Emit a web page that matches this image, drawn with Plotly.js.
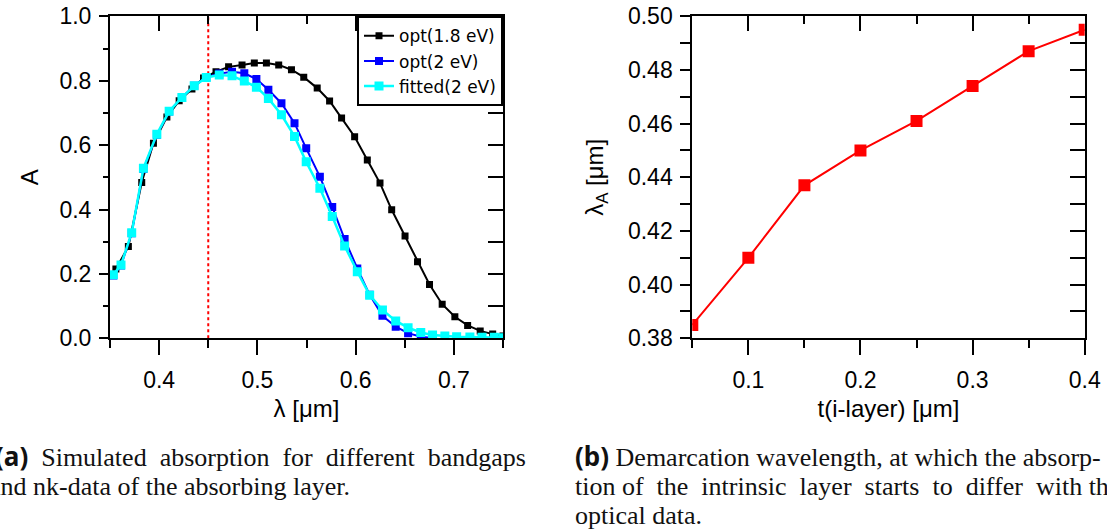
<!DOCTYPE html>
<html>
<head>
<meta charset="utf-8">
<script src="https://cdn.plot.ly/plotly-3.0.1.min.js"></script>
<style>
  html, body { margin: 0; padding: 0; background: #fff; }
  #chart { width: 1107px; height: 529px; }
</style>
</head>
<body>
<div id="chart"></div>
<script>
// ---------- data ----------
const lambdaBlack = [0.3560, 0.3687, 0.3823, 0.3942, 0.4079, 0.4204, 0.4334, 0.4452, 0.4579, 0.4707,
                     0.4844, 0.4969, 0.5092, 0.5217, 0.5347, 0.5472, 0.5609, 0.5735, 0.5857, 0.5990,
                     0.6119, 0.6248, 0.6367, 0.6503, 0.6630, 0.6752, 0.6881, 0.7010, 0.7140, 0.7268,
                     0.7395, 0.7500];
const absBlack    = [0.215, 0.285, 0.484, 0.606, 0.687, 0.738, 0.774, 0.808, 0.828, 0.843,
                     0.849, 0.855, 0.855, 0.849, 0.834, 0.811, 0.777, 0.737, 0.684, 0.626,
                     0.554, 0.482, 0.399, 0.318, 0.238, 0.167, 0.106, 0.067, 0.040, 0.023,
                     0.013, 0.007];

const lambdaBlue  = [0.3534, 0.3612, 0.3721, 0.3840, 0.3977, 0.4102, 0.4232, 0.4357, 0.4480, 0.4612,
                     0.4742, 0.4867, 0.4990, 0.5112, 0.5245, 0.5378, 0.5497, 0.5636, 0.5762, 0.5888,
                     0.6017, 0.6143, 0.6273, 0.6408, 0.6534, 0.6663, 0.6783];
const absBlue     = [0.195, 0.226, 0.326, 0.526, 0.632, 0.704, 0.748, 0.784, 0.811, 0.822,
                     0.828, 0.823, 0.805, 0.772, 0.730, 0.668, 0.590, 0.502, 0.408, 0.308,
                     0.217, 0.135, 0.070, 0.036, 0.016, 0.005, 0.001];

const lambdaCyan  = [0.3534, 0.3612, 0.3721, 0.3840, 0.3977, 0.4102, 0.4232, 0.4357, 0.4480, 0.4612,
                     0.4742, 0.4867, 0.4990, 0.5112, 0.5245, 0.5378, 0.5497, 0.5636, 0.5762, 0.5888,
                     0.6017, 0.6143, 0.6273, 0.6408, 0.6534, 0.6663, 0.6783, 0.6908, 0.7028, 0.7163,
                     0.7286, 0.7412, 0.7500];
const absCyan     = [0.197, 0.228, 0.328, 0.528, 0.634, 0.705, 0.748, 0.784, 0.810, 0.818,
                     0.815, 0.799, 0.780, 0.745, 0.694, 0.627, 0.548, 0.466, 0.378, 0.287,
                     0.207, 0.134, 0.088, 0.054, 0.033, 0.018, 0.010, 0.007, 0.005, 0.004,
                     0.003, 0.003, 0.002];

const seriesNames = ['opt(1.8 eV)', 'opt(2 eV)', 'fitted(2 eV)'];
const demarcationLambda = 0.45;

const tLayer  = [0.05, 0.10, 0.15, 0.20, 0.25, 0.30, 0.35, 0.40];
const lambdaA = [0.385, 0.410, 0.437, 0.450, 0.461, 0.474, 0.487, 0.495];

// ---------- traces ----------
const traces = [
  { x: lambdaBlack, y: absBlack, name: seriesNames[0], type: 'scatter', mode: 'lines+markers',
    xaxis: 'x', yaxis: 'y',
    line: { color: '#000000', width: 2 }, marker: { symbol: 'square', size: 7, color: '#000000' } },
  { x: lambdaBlue, y: absBlue, name: seriesNames[1], type: 'scatter', mode: 'lines+markers',
    xaxis: 'x', yaxis: 'y',
    line: { color: '#0000ff', width: 2 }, marker: { symbol: 'square', size: 8, color: '#0000ff' } },
  { x: lambdaCyan, y: absCyan, name: seriesNames[2], type: 'scatter', mode: 'lines+markers',
    xaxis: 'x', yaxis: 'y',
    line: { color: '#00ffff', width: 2.5 }, marker: { symbol: 'square', size: 9, color: '#00ffff' } },
  { x: tLayer, y: lambdaA, name: 'lambdaA', type: 'scatter', mode: 'lines+markers',
    xaxis: 'x2', yaxis: 'y2', showlegend: false,
    line: { color: '#ff0000', width: 2 }, marker: { symbol: 'square', size: 12, color: '#ff0000' } },
  // empty traces that only make the mirrored frame axes (top / right) exist
  { x: [], y: [], type: 'scatter', mode: 'markers', xaxis: 'x3', yaxis: 'y3', showlegend: false, hoverinfo: 'skip' },
  { x: [], y: [], type: 'scatter', mode: 'markers', xaxis: 'x4', yaxis: 'y4', showlegend: false, hoverinfo: 'skip' }
];

// ---------- geometry (pixel -> paper) ----------
const W = 1107, H = 529;
const px = v => v / W;
const py = v => 1 - v / H;
const yDom = [py(338.3), py(16.3)];
const xDomA = [px(110), px(503)];
const xDomB = [px(692.3), px(1084.7)];

const tickFont = { family: 'Liberation Sans, Arial, sans-serif', size: 23, color: '#000' };
const baseAx = {
  showline: true, linecolor: '#000', linewidth: 2, showgrid: false, zeroline: false,
  tickcolor: '#000', tickwidth: 2, tickfont: tickFont
};
function mirrorX(over, anchor, range, dtick, mdtick) {
  return Object.assign({}, baseAx, {
    overlaying: over, anchor: anchor, side: 'top', range: range, dtick: dtick, tick0: 0,
    ticks: 'inside', ticklen: 15, showticklabels: false,
    minor: { dtick: mdtick, ticks: 'inside', ticklen: 8, tickwidth: 2, tickcolor: '#000' }
  });
}
function mirrorY(over, anchor, range, dtick, mdtick) {
  return Object.assign({}, baseAx, {
    overlaying: over, anchor: anchor, side: 'right', range: range, dtick: dtick, tick0: 0,
    ticks: 'inside', ticklen: 15, showticklabels: false,
    minor: { dtick: mdtick, ticks: 'inside', ticklen: 15, tickwidth: 2, tickcolor: '#000' }
  });
}

const capFont = { family: 'Liberation Serif, Times New Roman, serif', size: 26, color: '#111' };
const boldSpan = s => "<span style='font-family:Noto Sans, DejaVu Sans, sans-serif;font-weight:bold'>" + s + "</span>";

const layout = {
  width: W, height: H,
  margin: { l: 0, r: 0, t: 0, b: 0 },
  paper_bgcolor: '#fff', plot_bgcolor: 'rgba(0,0,0,0)',
  font: { family: 'Liberation Sans, Arial, sans-serif', size: 22, color: '#000' },
  showlegend: true,
  legend: {
    x: px(503), xanchor: 'right', y: py(16.3), yanchor: 'top',
    bgcolor: '#fff', bordercolor: '#000', borderwidth: 2,
    font: { family: 'DejaVu Sans, Liberation Sans, sans-serif', size: 17, color: '#000' },
    tracegroupgap: 0, itemwidth: 30
  },
  xaxis: Object.assign({}, baseAx, {
    domain: xDomA, anchor: 'y', side: 'bottom', range: [0.35, 0.75],
    dtick: 0.1, tick0: 0, tickformat: '.1f', ticks: 'outside', ticklen: 15,
    minor: { dtick: 0.05, ticks: 'outside', ticklen: 8, tickwidth: 2, tickcolor: '#000' },
    ticklabelstandoff: 5,
    title: { text: 'λ [μm]', font: { size: 24 }, standoff: 8 }
  }),
  yaxis: Object.assign({}, baseAx, {
    domain: yDom, anchor: 'x', side: 'left', range: [0, 1],
    dtick: 0.2, tick0: 0, tickformat: '.1f', ticks: 'outside', ticklen: 9,
    minor: { dtick: 0.1, ticks: 'outside', ticklen: 5, tickwidth: 2, tickcolor: '#000' },
    ticklabelstandoff: 3,
    title: { text: 'A', font: { size: 24 }, standoff: 14 }
  }),
  xaxis3: mirrorX('x', 'y3', [0.35, 0.75], 0.1, 0.05),
  yaxis3: mirrorY('y', 'x3', [0, 1], 0.2, 0.1),
  xaxis2: Object.assign({}, baseAx, {
    domain: xDomB, anchor: 'y2', side: 'bottom', range: [0.05, 0.4],
    dtick: 0.1, tick0: 0, tickformat: '.1f', ticks: 'outside', ticklen: 15,
    minor: { dtick: 0.05, ticks: 'outside', ticklen: 8, tickwidth: 2, tickcolor: '#000' },
    ticklabelstandoff: 5,
    title: { text: 't(i-layer) [μm]', font: { size: 24 }, standoff: 8 }
  }),
  yaxis2: Object.assign({}, baseAx, {
    domain: yDom, anchor: 'x2', side: 'left', range: [0.38, 0.50],
    dtick: 0.02, tick0: 0, tickformat: '.2f', ticks: 'outside', ticklen: 10,
    minor: { dtick: 0.01, ticks: 'outside', ticklen: 10, tickwidth: 2, tickcolor: '#000' },
    ticklabelstandoff: 3,
    title: { text: 'λ<sub>A</sub> [μm]', font: { size: 24 }, standoff: 18 }
  }),
  xaxis4: mirrorX('x2', 'y4', [0.05, 0.4], 0.1, 0.05),
  yaxis4: mirrorY('y2', 'x4', [0.38, 0.50], 0.02, 0.01),
  shapes: [
    { type: 'line', xref: 'x', yref: 'y', x0: demarcationLambda, x1: demarcationLambda, y0: 0, y1: 1,
      line: { color: '#ff0000', width: 2, dash: 'dot' }, layer: 'below' }
  ],
  annotations: [
    { xref: 'paper', yref: 'paper', x: px(-7), y: py(456), xanchor: 'left', yanchor: 'middle', showarrow: false,
      font: capFont, text: boldSpan('(a)') + '  Simulated  absorption  for  different  bandgaps' },
    { xref: 'paper', yref: 'paper', x: px(-13), y: py(486), xanchor: 'left', yanchor: 'middle', showarrow: false,
      font: capFont, text: 'and nk-data of the absorbing layer.' },
    { xref: 'paper', yref: 'paper', x: px(573), y: py(456), xanchor: 'left', yanchor: 'middle', showarrow: false,
      font: capFont, text: boldSpan('(b)') + ' Demarcation wavelength, at which the absorp-' },
    { xref: 'paper', yref: 'paper', x: px(573), y: py(486), xanchor: 'left', yanchor: 'middle', showarrow: false,
      font: capFont, text: 'tion of  the  intrinsic  layer  starts  to  differ  with the' },
    { xref: 'paper', yref: 'paper', x: px(573), y: py(515), xanchor: 'left', yanchor: 'middle', showarrow: false,
      font: capFont, text: 'optical data.' }
  ]
};

Plotly.newPlot('chart', traces, layout, { displayModeBar: false, staticPlot: true });
</script>
</body>
</html>
